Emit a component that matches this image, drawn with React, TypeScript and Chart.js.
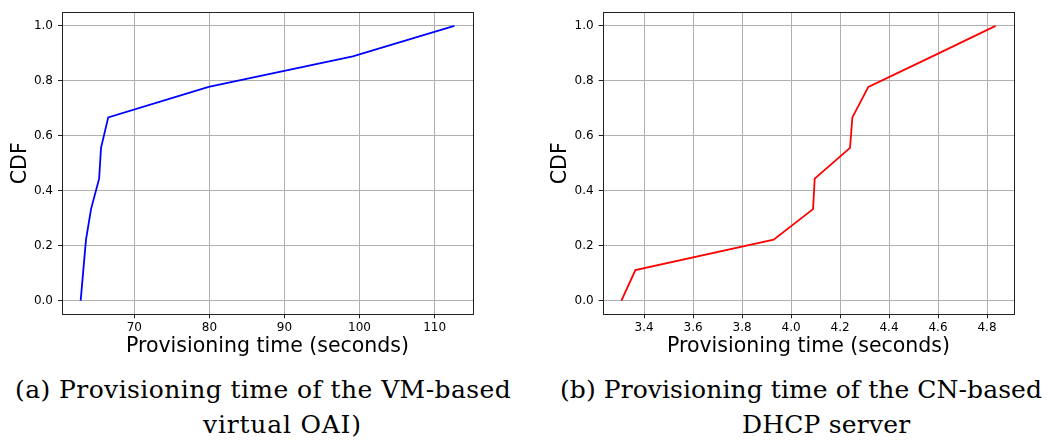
import React, { useEffect, useRef } from "react";
import { Chart, registerables } from "chart.js";

Chart.register(...registerables);

// ---- data ----
const cdfLevels = [0, 0.111, 0.222, 0.333, 0.444, 0.556, 0.667, 0.778, 0.889, 1.0];
const vmTimes = [62.85, 63.2, 63.56, 64.23, 65.31, 65.56, 66.52, 79.9, 99.1, 112.63];
const dhcpTimes = [3.3075, 3.3646, 3.929, 4.0898, 4.0966, 4.2408, 4.2503, 4.3156, 4.577, 4.835];
const yTicks = [0, 0.2, 0.4, 0.6, 0.8, 1.0];
const vmXTicks = [70, 80, 90, 100, 110];
const dhcpXTicks = [3.4, 3.6, 3.8, 4.0, 4.2, 4.4, 4.6, 4.8];
const xTitle = "Provisioning time (seconds)";
const yTitle = "CDF";
const captionA = ["(a) Provisioning time of the VM-based", "virtual OAI)"];
const captionB = ["(b) Provisioning time of the CN-based", "DHCP server"];

const framePlugin = {
  id: "frame",
  afterDraw(chart: any) {
    const { ctx, chartArea } = chart;
    const { left, top, right, bottom } = chartArea;
    ctx.save();
    ctx.strokeStyle = "#222";
    ctx.lineWidth = 1;
    ctx.strokeRect(Math.round(left) + 0.5, Math.round(top) + 0.5, Math.round(right) - Math.round(left), Math.round(bottom) - Math.round(top));
    ctx.restore();
  },
};

type Props = {
  times: number[];
  color: string;
  xTicks: number[];
  xDecimals: number;
  left: number;
  width: number;
  height: number;
  yAxisWidth: number;
  padRight: number;
};

function CdfChart({ times, color, xTicks, xDecimals, left, width, height, yAxisWidth, padRight }: Props) {
  const ref = useRef<HTMLCanvasElement>(null);
  useEffect(() => {
    const lo = Math.min(...times);
    const hi = Math.max(...times);
    const m = (hi - lo) * 0.05;
    const tickFont = { family: "DejaVu Sans", size: 12 };
    const titleFont = { family: "DejaVu Sans", size: 20.5 };
    const grid = { color: "#b0b0b0", lineWidth: 1, tickLength: 4, tickColor: "#222", drawTicks: true };
    const chart = new Chart(ref.current as HTMLCanvasElement, {
      type: "line",
      data: {
        datasets: [
          {
            data: times.map((x, i) => ({ x, y: cdfLevels[i] })),
            borderColor: color,
            borderWidth: 1.8,
            pointRadius: 0,
            tension: 0,
            fill: false,
          },
        ],
      },
      options: {
        responsive: false,
        animation: false,
        devicePixelRatio: 1,
        layout: { padding: { left: 0, right: padRight, top: 8.3, bottom: 0 } },
        plugins: { legend: { display: false }, tooltip: { enabled: false } },
        scales: {
          x: {
            type: "linear",
            min: lo - m,
            max: hi + m,
            afterBuildTicks: (s: any) => {
              s.ticks = xTicks.map((v) => ({ value: v }));
            },
            afterFit: (s: any) => {
              s.height = 47.7;
            },
            grid,
            border: { display: false },
            ticks: {
              font: tickFont,
              color: "#000",
              padding: 2.5,
              maxRotation: 0,
              autoSkip: false,
              callback: (v: any) => Number(v).toFixed(xDecimals),
            },
            title: { display: true, text: xTitle, font: titleFont, color: "#000", padding: { top: 0, bottom: 3 } },
          },
          y: {
            type: "linear",
            min: -0.05,
            max: 1.05,
            afterBuildTicks: (s: any) => {
              s.ticks = yTicks.map((v) => ({ value: v }));
            },
            afterFit: (s: any) => {
              s.width = yAxisWidth;
            },
            grid,
            border: { display: false },
            ticks: {
              font: tickFont,
              color: "#000",
              padding: 5,
              autoSkip: false,
              callback: (v: any) => Number(v).toFixed(1),
            },
            title: { display: true, text: yTitle, font: titleFont, color: "#000", padding: { top: 8, bottom: 0 } },
          },
        },
      },
      plugins: [framePlugin],
    } as any);
    return () => chart.destroy();
  }, []);
  return (
    <canvas
      ref={ref}
      width={width}
      height={height}
      style={{ position: "absolute", left, top: 0, width, height }}
    />
  );
}

const capStyle: React.CSSProperties = {
  position: "absolute",
  whiteSpace: "nowrap",
  fontFamily: "'DejaVu Serif', serif",
  fontSize: 25,
  lineHeight: "25px",
  color: "#000",
};

export default function App() {
  return (
    <div style={{ position: "absolute", left: 0, top: 0, width: 1047, height: 441, background: "#fff", overflow: "hidden" }}>
      <CdfChart times={vmTimes} color="#0000ff" xTicks={vmXTicks} xDecimals={0} left={0} width={480} height={362} yAxisWidth={62} padRight={7} />
      <CdfChart times={dhcpTimes} color="#ff0000" xTicks={dhcpXTicks} xDecimals={1} left={540} width={507} height={362} yAxisWidth={62.7} padRight={32.7} />
      <div style={{ ...capStyle, left: 15, top: 377, letterSpacing: 0.42 }}>{captionA[0]}</div>
      <div style={{ ...capStyle, left: 203, top: 412, letterSpacing: 0.8 }}>{captionA[1]}</div>
      <div style={{ ...capStyle, left: 560, top: 377, letterSpacing: 0.08 }}>{captionB[0]}</div>
      <div style={{ ...capStyle, left: 742, top: 412, letterSpacing: 0.2 }}>{captionB[1]}</div>
    </div>
  );
}
